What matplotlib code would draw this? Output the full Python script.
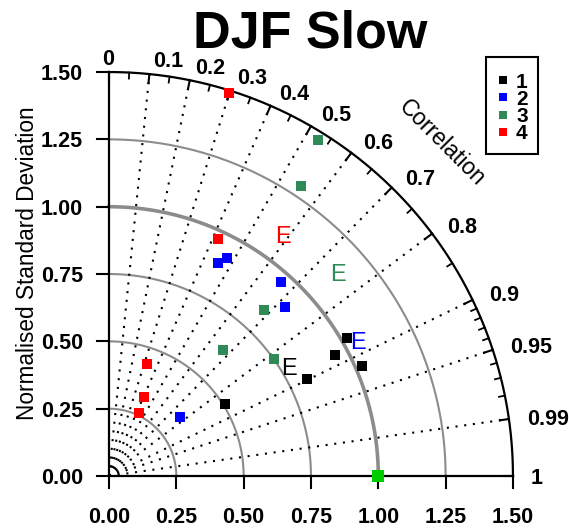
import numpy as np
import matplotlib
matplotlib.use('Agg')
import matplotlib.pyplot as plt

plt.rcParams['font.family'] = ['Liberation Sans', 'DejaVu Sans']

# ---------------- data ----------------
title = "DJF Slow"
series_labels = ['1', '2', '3', '4']
series_colors = ['#000000', '#0000ff', '#2e8b57', '#ff0000']

std_1 = [0.507, 0.818, 0.952, 1.022, 1.024]
corr_1 = [0.850, 0.898, 0.881, 0.865, 0.917]
std_2 = [0.343, 0.888, 0.920, 0.963, 0.907]
corr_2 = [0.770, 0.455, 0.476, 0.664, 0.721]
std_3 = [0.631, 0.843, 0.751, 1.292, 1.470]
corr_3 = [0.670, 0.683, 0.816, 0.552, 0.528]
std_4 = [1.490, 0.969, 0.439, 0.320, 0.259]
corr_4 = [0.299, 0.418, 0.321, 0.406, 0.428]

ens_std = [0.781, 1.052, 1.136, 1.104]
ens_corr = [0.855, 0.879, 0.748, 0.585]

ref_std = 1.0
std_ticks = [0.0, 0.25, 0.5, 0.75, 1.0, 1.25, 1.5]
std_tick_labels = ['0.00', '0.25', '0.50', '0.75', '1.00', '1.25', '1.50']
grid_radii = [0.25, 0.5, 0.75, 1.0, 1.25]
corr_labels = [0.0, 0.1, 0.2, 0.3, 0.4, 0.5, 0.6, 0.7, 0.8, 0.9, 0.95, 0.99, 1.0]
corr_label_text = ['0', '0.1', '0.2', '0.3', '0.4', '0.5', '0.6', '0.7', '0.8', '0.9', '0.95', '0.99', '1']
corr_lines = [0.1, 0.2, 0.3, 0.4, 0.5, 0.6, 0.7, 0.8, 0.9, 0.95, 0.99]
corr_minor = [0.05, 0.15, 0.25, 0.35, 0.45, 0.55, 0.65, 0.75, 0.85,
              0.91, 0.92, 0.93, 0.94, 0.96, 0.97, 0.98]

stds = [std_1, std_2, std_3, std_4]
corrs = [corr_1, corr_2, corr_3, corr_4]

# ---------------- figure ----------------
W, H = 569, 530
S = 269.3          # pixels per unit
X0, Y0 = 109, 476  # origin pixel
fig = plt.figure(figsize=(W / 100, H / 100), dpi=100)
ax = fig.add_axes([0, 0, 1, 1])
ax.set_xlim(-X0 / S, (W - X0) / S)
ax.set_ylim(-(H - Y0) / S, Y0 / S)
ax.axis('off')


def px(x, y):
    return (x - X0) / S, (Y0 - y) / S


RMAX = 1.5
th = np.linspace(0, np.pi / 2, 300)
TFS = 15.5

# grey std arcs
for r in grid_radii:
    lw = 2.6 if r == 1.0 else 1.5
    ax.plot(r * np.cos(th), r * np.sin(th), color='#8c8c8c', lw=lw, zorder=1)

# dotted correlation lines
for c in corr_lines:
    a = np.arccos(c)
    ax.plot([0, RMAX * np.cos(a)], [0, RMAX * np.sin(a)], color='black',
            lw=1.5, linestyle=(0, (1, 3.2)), zorder=1)

# outer arc and axes
ax.plot(RMAX * np.cos(th), RMAX * np.sin(th), color='black', lw=1.6, zorder=2)
ax.plot([0, RMAX], [0, 0], color='black', lw=1.6, zorder=2)
ax.plot([0, 0], [0, RMAX], color='black', lw=1.6, zorder=2)

tl = 12 / S
for v, lab in zip(std_ticks, std_tick_labels):
    ax.plot([-tl, 0], [v, v], color='black', lw=1.5, zorder=2)
    ax.plot([v, v], [0, -tl], color='black', lw=1.5, zorder=2)
    ax.text(-26 / S, v, lab, ha='right', va='center_baseline', fontsize=TFS, fontweight='bold')
    ax.text(v, -39 / S, lab, ha='center', va='center_baseline', fontsize=TFS, fontweight='bold')

# correlation ticks on outer arc (pointing inward)
for c in corr_labels:
    a = np.arccos(c)
    ax.plot([RMAX * np.cos(a), (RMAX - 9 / S) * np.cos(a)],
            [RMAX * np.sin(a), (RMAX - 9 / S) * np.sin(a)], color='black', lw=1.5, zorder=2)
for c in corr_minor:
    a = np.arccos(c)
    ax.plot([RMAX * np.cos(a), (RMAX - 6 / S) * np.cos(a)],
            [RMAX * np.sin(a), (RMAX - 6 / S) * np.sin(a)], color='black', lw=1.3, zorder=2)

# correlation labels
for c, lab in zip(corr_labels, corr_label_text):
    a = np.arccos(c)
    if c == 0.0:
        ha, dx = 'center', -1
    else:
        ha, dx = 'left', 2 + 16 * np.cos(a)
    dy = 15 * np.sin(a)
    ax.annotate(lab, xy=(RMAX * np.cos(a), RMAX * np.sin(a)), xytext=(dx, dy),
                textcoords='offset pixels', ha=ha, va='center_baseline',
                fontsize=TFS, fontweight='bold')

# "Correlation" label
ca = np.deg2rad(45)
ax.text(1.75 * np.cos(ca), 1.75 * np.sin(ca), 'Correlation', rotation=-45,
        ha='center', va='center', fontsize=16.5, rotation_mode='anchor')

# y label
ax.text(*px(28, 263), 'Normalised Standard Deviation', rotation=90,
        ha='center', va='center', fontsize=16.3)

# data points
for s_arr, c_arr, col in zip(stds, corrs, series_colors):
    s_arr = np.array(s_arr)
    a = np.arccos(np.array(c_arr))
    ax.plot(s_arr * np.cos(a), s_arr * np.sin(a), linestyle='none', marker='s',
            markersize=7, markeredgewidth=0, color=col, zorder=4)

# ensemble E markers
for s, c, col in zip(ens_std, ens_corr, series_colors):
    a = np.arccos(c)
    ax.text(s * np.cos(a), s * np.sin(a), 'E', color=col, fontsize=17,
            ha='center', va='center_baseline', zorder=5)

# reference point
ax.plot([ref_std], [0], linestyle='none', marker='s', markersize=8.5,
        markeredgewidth=0, color='#00cc00', zorder=5, clip_on=False)

# legend (drawn manually)
bx0, by0 = px(486, 154)
bx1, by1 = px(538, 57)
ax.add_patch(plt.Rectangle((bx0, by0), bx1 - bx0, by1 - by0, fill=False,
                           edgecolor='black', lw=1.5, zorder=6))
for i, (lab, col) in enumerate(zip(series_labels, series_colors)):
    yy = 80 + i * 17.3
    ax.plot(*px(503, yy), marker='s', markersize=6, markeredgewidth=0,
            color=col, linestyle='none', zorder=7)
    ax.text(*px(516, yy), lab, ha='left', va='center_baseline', fontsize=15,
            fontweight='bold', zorder=7)

# title
fig.text(310 / W, 1 - 48 / H, title, ha='center', va='baseline',
         fontsize=37.5, fontweight='bold')

fig.savefig('out.png', dpi=100)
